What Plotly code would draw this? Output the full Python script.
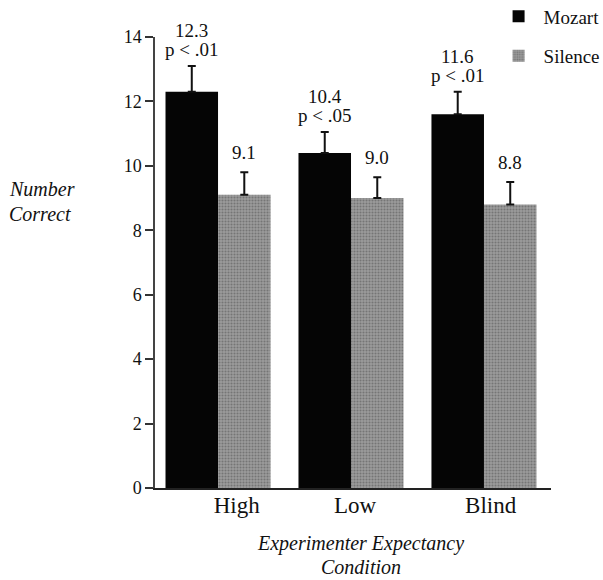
import plotly.graph_objects as go

conditions = ["High", "Low", "Blind"]
mozart = [12.3, 10.4, 11.6]
silence = [9.1, 9.0, 8.8]
mozart_err = [0.8, 0.65, 0.7]
silence_err = [0.7, 0.65, 0.7]
mozart_p = ["p < .01", "p < .05", "p < .01"]
y_ticks = [0, 2, 4, 6, 8, 10, 12, 14]

SERIF = "Liberation Serif"
xs = list(range(len(conditions)))

fig = go.Figure()
fig.add_trace(go.Bar(
    x=xs, y=mozart, name="Mozart", legendgroup="m",
    marker=dict(color="#050505", line=dict(width=0)),
    error_y=dict(type="data", array=mozart_err, arrayminus=[0]*3, symmetric=False,
                 color="#111", thickness=2, width=4),
))
fig.add_trace(go.Bar(
    x=xs, y=silence, name="Silence", legendgroup="s",
    marker=dict(color="#929292", line=dict(width=0),
                pattern=dict(shape=".", fgcolor="#4d4d4d", bgcolor="#9c9c9c",
                             size=3, solidity=0.4)),
    error_y=dict(type="data", array=silence_err, arrayminus=[0]*3, symmetric=False,
                 color="#111", thickness=2, width=4),
))

off = 0.1975
for i in xs:
    top = mozart[i] + mozart_err[i]
    fig.add_annotation(x=i - off, y=top, text=f"{mozart[i]:.1f}",
                       showarrow=False, yanchor="bottom", yshift=23,
                       font=dict(family=SERIF, size=19, color="#111"))
    fig.add_annotation(x=i - off, y=top, text=mozart_p[i],
                       showarrow=False, yanchor="bottom", yshift=4,
                       font=dict(family=SERIF, size=19, color="#111"))
    fig.add_annotation(x=i + off, y=silence[i] + silence_err[i],
                       text=f"{silence[i]:.1f}",
                       showarrow=False, yanchor="bottom", yshift=7,
                       font=dict(family=SERIF, size=19, color="#111"))

for txt, yy in [("Number", 0.664), ("Correct", 0.608)]:
    fig.add_annotation(xref="paper", yref="paper", x=-0.375, y=yy,
                       text=f"<i>{txt}</i>", showarrow=False,
                       xanchor="left", yanchor="middle", align="left",
                       font=dict(family=SERIF, size=20, color="#111"))
for txt, yy in [("Experimenter Expectancy", -0.124), ("Condition", -0.175)]:
    fig.add_annotation(xref="paper", yref="paper", x=0.52, y=yy,
                       text=f"<i>{txt}</i>", showarrow=False,
                       xanchor="center", yanchor="middle", align="center",
                       font=dict(family=SERIF, size=20, color="#111"))

fig.update_layout(
    width=603, height=580,
    margin=dict(l=155, r=52, t=37, b=92, autoexpand=False),
    paper_bgcolor="white", plot_bgcolor="white",
    barmode="group", bargap=0.21, bargroupgap=0,
    showlegend=True,
    legend=dict(x=0.855, y=1.088, xanchor="left", yanchor="top",
                traceorder="grouped", itemwidth=40,
                font=dict(family=SERIF, size=19, color="#111"),
                tracegroupgap=12, itemsizing="constant"),
    font=dict(family=SERIF, color="#111"),
)
fig.update_xaxes(range=[-0.474, 2.504], tickmode="array",
                 tickvals=[0.14, 1.03, 2.05], ticktext=conditions,
                 ticks="", showline=True, linecolor="#222", linewidth=1.5,
                 showgrid=False, zeroline=False, ticklabelstandoff=-4,
                 tickfont=dict(family=SERIF, size=23, color="#111"))
fig.update_yaxes(range=[0, 14], tickvals=y_ticks, ticks="outside", ticklen=8,
                 tickcolor="#333", tickwidth=1.5,
                 showline=True, linecolor="#444", linewidth=1.5,
                 showgrid=False, zeroline=False,
                 tickfont=dict(family=SERIF, size=18, color="#111"))

fig.write_html("out.html", config={"displayModeBar": False},
               post_script="document.body.style.margin='0';document.body.style.overflow='hidden';")
